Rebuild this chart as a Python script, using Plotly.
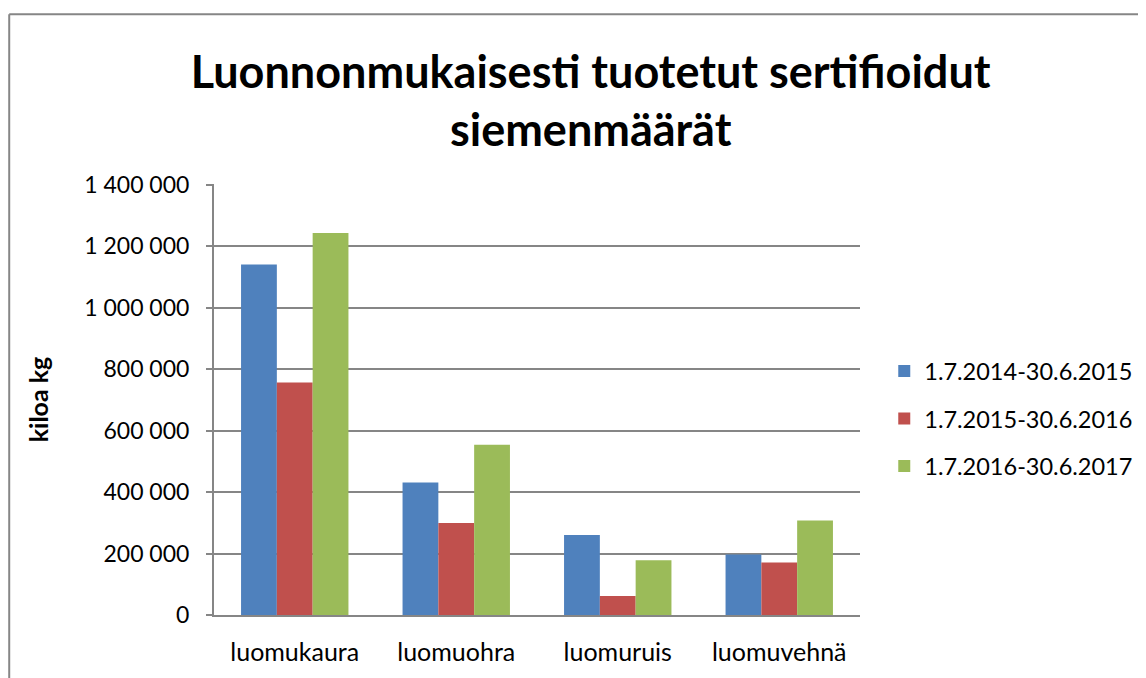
import plotly.graph_objects as go

categories = ["luomukaura", "luomuohra", "luomuruis", "luomuvehnä"]
series_names = ["1.7.2014-30.6.2015", "1.7.2015-30.6.2016", "1.7.2016-30.6.2017"]
kausi_2014 = [1140000, 431000, 260000, 197000]
kausi_2015 = [756000, 299000, 62000, 171000]
kausi_2016 = [1243000, 554000, 178000, 307000]
tick_values = [0, 200000, 400000, 600000, 800000, 1000000, 1200000, 1400000]
tick_labels = ["0", "200 000", "400 000", "600 000", "800 000", "1 000 000", "1 200 000", "1 400 000"]

colors = ["#4F81BD", "#C0504D", "#9BBB59"]
grey = "#868686"
font = "Lato, Calibri, sans-serif"

fig = go.Figure()
for i, (name, vals) in enumerate(zip(series_names, [kausi_2014, kausi_2015, kausi_2016])):
    fig.add_trace(go.Bar(
        x=categories,
        y=vals,
        name=name,
        legendgroup=name,
        marker=dict(color=colors[i], line=dict(width=0)),
    ))

# page body adds ~8px, so the figure is a bit smaller than the window
fig.update_layout(
    width=1138,
    height=670,
    paper_bgcolor="white",
    plot_bgcolor="white",
    barmode="group",
    bargap=0.335,
    bargroupgap=0,
    margin=dict(l=206, r=286, t=176, b=60),
    font=dict(family=font, size=24, color="black"),
    title=dict(
        text="<b>Luonnonmukaisesti tuotetut sertifioidut<br>siemenmäärät</b>",
        x=0.512, xanchor="center",
        y=0.881, yanchor="middle",
        font=dict(family=font, size=45, color="black"),
    ),
    legend=dict(
        xref="container", yref="container",
        x=0.770, xanchor="left",
        y=0.387, yanchor="middle",
        font=dict(family=font, size=23.5),
        traceorder="grouped",
        tracegroupgap=14,
        itemwidth=30,
    ),
    shapes=[
        dict(type="line", xref="paper", yref="paper", x0=-0.317, x1=1.5, y0=1.394, y1=1.394,
             line=dict(color=grey, width=2)),
        dict(type="line", xref="paper", yref="paper", x0=-0.317, x1=-0.317, y0=1.394, y1=-0.2,
             line=dict(color=grey, width=2)),
    ],
)

fig.update_xaxes(
    showline=True, linecolor=grey, linewidth=2,
    showgrid=False, ticks="", tickfont=dict(size=25),
    ticklabelstandoff=14,
)
fig.update_yaxes(
    range=[0, 1402000],
    tickvals=tick_values, ticktext=tick_labels,
    showline=True, linecolor=grey, linewidth=2,
    showgrid=True, gridcolor=grey, gridwidth=2,
    ticks="outside", ticklen=6, tickcolor=grey, tickwidth=2,
    tickfont=dict(size=23),
    ticklabelstandoff=12,
    zeroline=False,
    title=dict(text="<b>kiloa kg</b>", font=dict(size=25), standoff=28),
)

fig.write_html("out.html")
